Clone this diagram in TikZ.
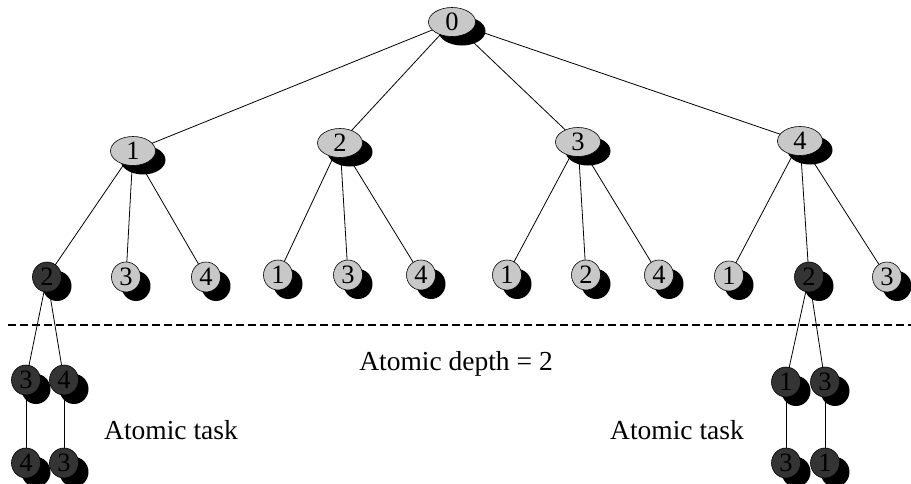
\documentclass[tikz,border=0pt]{standalone}
\usepackage{fontspec}
\setmainfont{Liberation Serif}
\usetikzlibrary{shapes.geometric,shadows,backgrounds}
\definecolor{lightnode}{RGB}{200,200,200}
\definecolor{darknode}{RGB}{52,52,52}
\tikzset{
  tnode/.style={ellipse, draw=black, line width=0.6pt, inner sep=0pt,
    font=\fontsize{26.5}{30}\selectfont,
    drop shadow={shadow xshift=10pt, shadow yshift=-9pt, fill=black, opacity=1}},
  rootnode/.style={tnode, fill=lightnode, minimum width=47pt, minimum height=29pt},
  midnode/.style={tnode, fill=lightnode, minimum width=45pt, minimum height=29pt},
  leafnode/.style={tnode, fill=lightnode, minimum width=29pt, minimum height=30pt},
  darkleaf/.style={tnode, fill=darknode, minimum width=29pt, minimum height=30pt},
  edge/.style={line width=0.8pt, black},
  label/.style={font=\fontsize{27.5}{32}\selectfont, inner sep=0pt}
}
\begin{document}
\begin{tikzpicture}[x=1pt,y=-1pt]
\useasboundingbox (0,0) rectangle (911,483);
% root and level 1
\node[rootnode] (r) at (452,22) {0};
\node[midnode] (a1) at (133,151) {1};
\node[midnode] (a2) at (340,143) {2};
\node[midnode] (a3) at (578,142) {3};
\node[midnode] (a4) at (800,141) {4};
% level 2
\node[darkleaf] (a1x2) at (47,277) {2};
\node[leafnode] (a1x3) at (126,277) {3};
\node[leafnode] (a1x4) at (206,277) {4};
\node[leafnode] (a2x1) at (278,275) {1};
\node[leafnode] (a2x3) at (348,275) {3};
\node[leafnode] (a2x4) at (421,275) {4};
\node[leafnode] (a3x1) at (507,275) {1};
\node[leafnode] (a3x2) at (586,275) {2};
\node[leafnode] (a3x4) at (659,275) {4};
\node[leafnode] (a4x1) at (729,276) {1};
\node[darkleaf] (a4x2) at (809,277) {2};
\node[leafnode] (a4x3) at (887,277) {3};
% atomic level
\node[darkleaf] (c3) at (26,380) {3};
\node[darkleaf] (c4) at (64,380) {4};
\node[darkleaf] (d4) at (26,463) {4};
\node[darkleaf] (d3) at (64,463) {3};
\node[darkleaf] (e1) at (786,382) {1};
\node[darkleaf] (e3) at (825,382) {3};
\node[darkleaf] (f3) at (786,463) {3};
\node[darkleaf] (f1) at (825,463) {1};
% texts
\node[label] (depth) at (456,364) {Atomic depth = 2};
\node[label] (task1) at (171,430) {Atomic task};
\node[label] (task2) at (677,430) {Atomic task};
% dashed separator
\coordinate (dl) at (8,325);
\coordinate (dr) at (911,325);
\draw[line width=1.6pt, dash pattern=on 8pt off 4pt] (dl) -- (dr);
\begin{scope}[on background layer]
\foreach \c in {a1,a2,a3,a4} \draw[edge] (r.center) -- (\c.center);
\foreach \c in {a1x2,a1x3,a1x4} \draw[edge] (a1.center) -- (\c.center);
\foreach \c in {a2x1,a2x3,a2x4} \draw[edge] (a2.center) -- (\c.center);
\foreach \c in {a3x1,a3x2,a3x4} \draw[edge] (a3.center) -- (\c.center);
\foreach \c in {a4x1,a4x2,a4x3} \draw[edge] (a4.center) -- (\c.center);
\draw[edge] (a1x2.center) -- (c3.center);
\draw[edge] (a1x2.center) -- (c4.center);
\draw[edge] (c3.center) -- (d4.center);
\draw[edge] (c4.center) -- (d3.center);
\draw[edge] (a4x2.center) -- (e1.center);
\draw[edge] (a4x2.center) -- (e3.center);
\draw[edge] (e1.center) -- (f3.center);
\draw[edge] (e3.center) -- (f1.center);
\end{scope}
\end{tikzpicture}
\end{document}
